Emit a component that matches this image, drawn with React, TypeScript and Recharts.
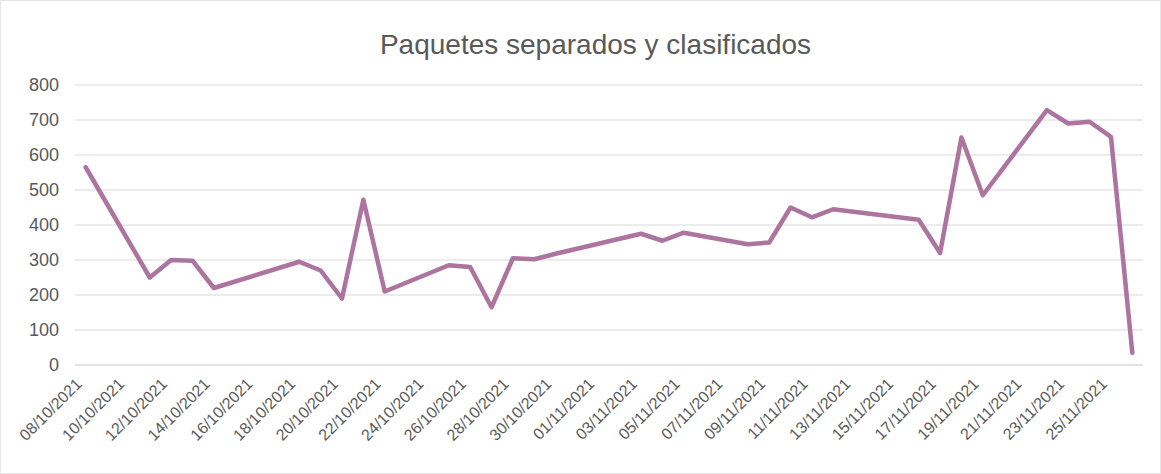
import { CartesianGrid, Line, LineChart, XAxis, YAxis } from "recharts";

// fechas con dato (el eje es de fechas, los huecos se unen con una recta)
const dates = [
    "08/10/2021", "11/10/2021", "12/10/2021", "13/10/2021", "14/10/2021",
    "18/10/2021", "19/10/2021", "20/10/2021", "21/10/2021", "22/10/2021",
    "25/10/2021", "26/10/2021", "27/10/2021", "28/10/2021", "29/10/2021",
    "30/10/2021", "03/11/2021", "04/11/2021", "05/11/2021", "08/11/2021",
    "09/11/2021", "10/11/2021", "11/11/2021", "12/11/2021", "16/11/2021",
    "17/11/2021", "18/11/2021", "19/11/2021", "22/11/2021", "23/11/2021",
    "24/11/2021", "25/11/2021", "26/11/2021",
];

const paquetes = [
    565, 250, 300, 298, 220,
    295, 270, 190, 472, 210,
    285, 280, 165, 305, 302,
    318, 375, 355, 378, 345,
    350, 450, 422, 445, 415,
    320, 650, 485, 728, 690,
    695, 652, 35,
];

const yTicks = [0, 100, 200, 300, 400, 500, 600, 700, 800];
const firstDate = "08/10/2021";
const lastLabelDate = "25/11/2021";

const DAY = 86400000;
const parse = (s: string) => {
    const [d, m, y] = s.split("/").map(Number);
    return Date.UTC(y, m - 1, d);
};
const start = parse(firstDate);
const dayOf = (s: string) => Math.round((parse(s) - start) / DAY);
const fmt = (n: number) => {
    const d = new Date(start + n * DAY);
    const dd = String(d.getUTCDate()).padStart(2, "0");
    const mm = String(d.getUTCMonth() + 1).padStart(2, "0");
    return `${dd}/${mm}/${d.getUTCFullYear()}`;
};

const xTicks: number[] = [];
for (let i = 0; i <= dayOf(lastLabelDate); i += 2) xTicks.push(i);

const data = dates.map((d, i) => ({ day: dayOf(d), value: paquetes[i] }));

const TEXT = "#595959";
const GRID = "#d9d9d9";
const LINE = "#ac749f";

const DateTick = ({ x, y, payload }: any) => {
    const ax = x - 3;
    const ay = y + 12;
    return (
        <text x={ax} y={ay} transform={`rotate(-45, ${ax}, ${ay})`} textAnchor="end" fill={TEXT} fontSize={16}>
            {fmt(payload.value)}
        </text>
    );
};

export default function App() {
    return (
        <div style={{ position: "absolute", left: 0, top: 0, width: 1161, height: 474, background: "#fff", fontFamily: "'Liberation Sans', Arial, sans-serif", border: "1px solid #e6e6e6", boxSizing: "border-box" }}>
            <div style={{ position: "absolute", top: 28, left: 14, width: 1161, textAlign: "center", fontSize: 28, color: TEXT }}>
                Paquetes separados y clasificados
            </div>
            <LineChart width={1159} height={472} data={data} margin={{ top: 84, right: 17, bottom: 8, left: 14 }}>
                <CartesianGrid vertical={false} stroke={GRID} />
                <XAxis
                    type="number"
                    dataKey="day"
                    domain={[-0.5, 49.5]}
                    ticks={xTicks}
                    interval={0}
                    tick={<DateTick />}
                    tickLine={false}
                    axisLine={{ stroke: GRID }}
                    height={100}
                />
                <YAxis
                    domain={[0, 800]}
                    ticks={yTicks}
                    tickLine={false}
                    axisLine={false}
                    width={60}
                    tickMargin={10}
                    tick={{ fill: TEXT, fontSize: 18 }}
                />
                <Line
                    type="linear"
                    dataKey="value"
                    stroke={LINE}
                    strokeWidth={4.5}
                    strokeLinejoin="round"
                    strokeLinecap="round"
                    dot={false}
                    isAnimationActive={false}
                />
            </LineChart>
        </div>
    );
}
